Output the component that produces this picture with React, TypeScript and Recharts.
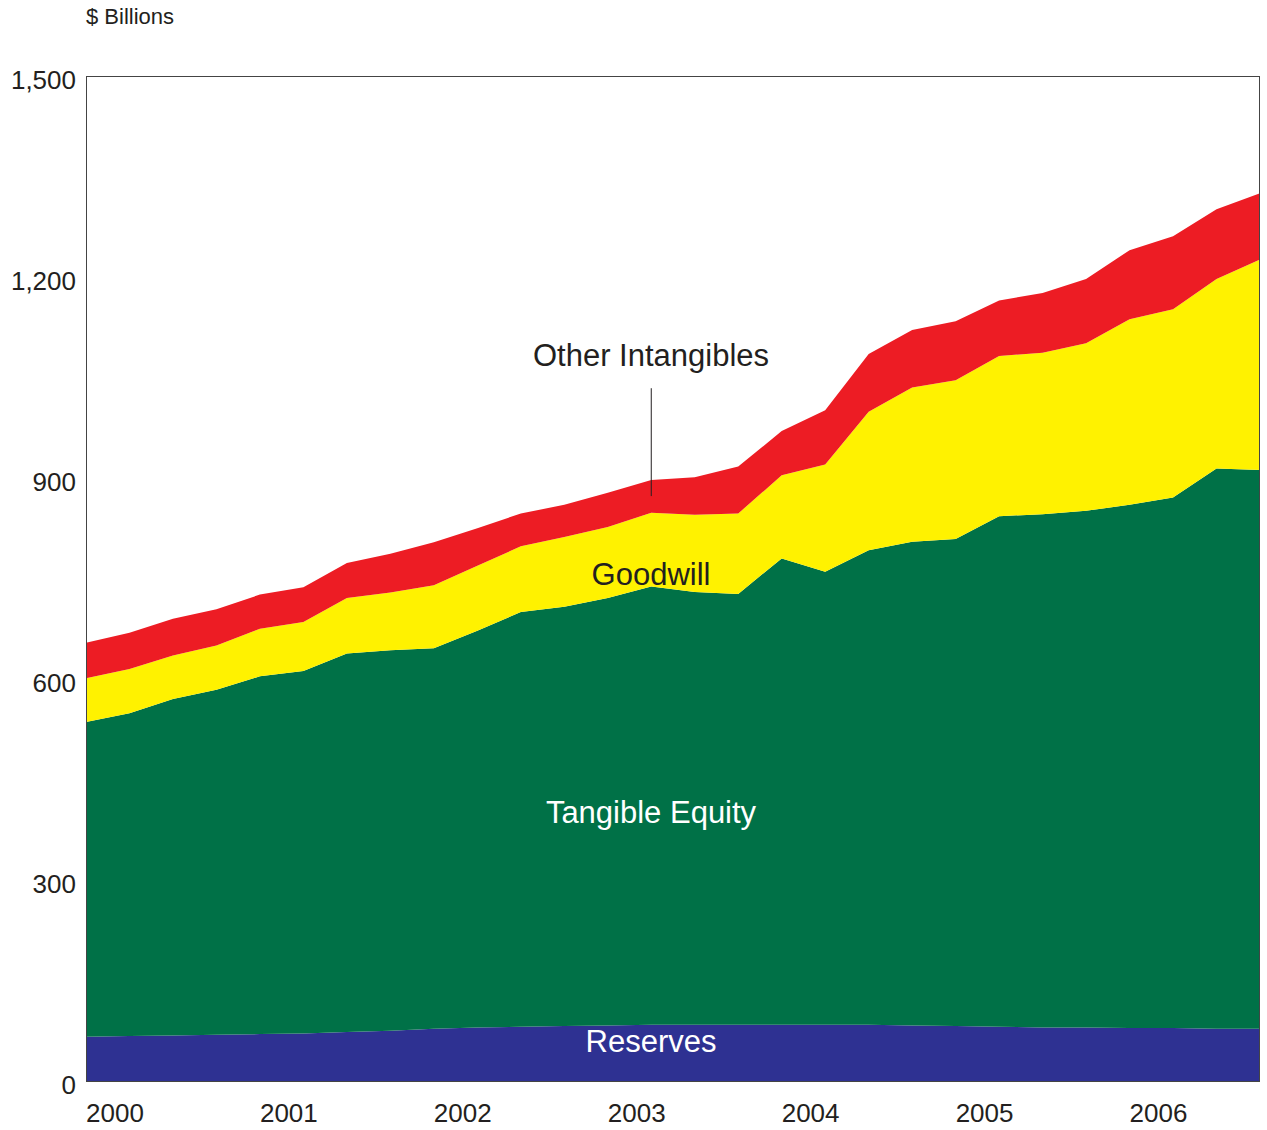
import { AreaChart, Area, XAxis, YAxis, ReferenceLine } from 'recharts';

const quarters = [
  '2000Q1', '2000Q2', '2000Q3', '2000Q4',
  '2001Q1', '2001Q2', '2001Q3', '2001Q4',
  '2002Q1', '2002Q2', '2002Q3', '2002Q4',
  '2003Q1', '2003Q2', '2003Q3', '2003Q4',
  '2004Q1', '2004Q2', '2004Q3', '2004Q4',
  '2005Q1', '2005Q2', '2005Q3', '2005Q4',
  '2006Q1', '2006Q2', '2006Q3', '2006Q4',
];
const yearTicks = ['2000Q1', '2001Q1', '2002Q1', '2003Q1', '2004Q1', '2005Q1', '2006Q1'];
const valueTicks = [0, 300, 600, 900, 1200, 1500];

// $ billions, stacked bottom to top
const reserves = [66, 67, 68, 69, 70, 71, 73, 75, 78, 80, 81, 82, 83, 84, 84, 84, 84, 84, 84, 83, 82, 81, 80, 80, 79, 79, 78, 78];
const tangibleEquity = [470, 482, 502, 515, 534, 541, 565, 568, 568, 592, 619, 626, 638, 654, 646, 643, 696, 676, 708, 722, 727, 762, 766, 771, 781, 792, 836, 834];
const goodwill = [65, 66, 65, 66, 71, 73, 83, 86, 94, 97, 98, 104, 106, 110, 115, 120, 124, 160, 207, 230, 237, 239, 241, 250, 277, 281, 283, 314];
const otherIntangibles = [53, 54, 55, 54, 51, 52, 52, 58, 64, 56, 49, 48, 51, 49, 56, 70, 66, 81, 86, 86, 88, 83, 89, 96, 103, 109, 104, 99];

const data = quarters.map((q, i) => ({
  quarter: q,
  reserves: reserves[i],
  tangible: tangibleEquity[i],
  goodwill: goodwill[i],
  other: otherIntangibles[i],
}));

const FONT = 'Arial, "Liberation Sans", Helvetica, sans-serif';
const INK = '#231f20';

function YearTick({ x, y, payload }: any) {
  return (
    <text x={x} y={y + 33} textAnchor="start" fontSize={26} fontFamily={FONT} fill={INK}>
      {payload.value.slice(0, 4)}
    </text>
  );
}

function ValueTick({ x, y, payload }: any) {
  return (
    <text x={x - 2} y={y + 13} textAnchor="end" fontSize={26} fontFamily={FONT} fill={INK}>
      {payload.value.toLocaleString('en-US')}
    </text>
  );
}

export default function App() {
  return (
    <div style={{ position: 'absolute', left: 0, top: 0, width: 1267, height: 1130, background: '#fff' }}>
      <AreaChart width={1267} height={1130} data={data} margin={{ top: 76, right: 7, bottom: 0, left: 0 }}>
        <XAxis
          dataKey="quarter"
          ticks={yearTicks}
          tick={<YearTick />}
          tickLine={false}
          height={49}
          axisLine={false}
          interval={0}
        />
        <YAxis
          domain={[0, 1500]}
          ticks={valueTicks}
          tick={<ValueTick />}
          tickLine={false}
          width={86}
          axisLine={false}
          interval={0}
        />
        <Area type="linear" dataKey="reserves" stackId="1" stroke="none" fill="#2e3192" fillOpacity={1} isAnimationActive={false} />
        <Area type="linear" dataKey="tangible" stackId="1" stroke="none" fill="#007147" fillOpacity={1} isAnimationActive={false} />
        <Area type="linear" dataKey="goodwill" stackId="1" stroke="none" fill="#fff200" fillOpacity={1} isAnimationActive={false} />
        <Area type="linear" dataKey="other" stackId="1" stroke="none" fill="#ed1c24" fillOpacity={1} isAnimationActive={false} />
        <ReferenceLine
          segment={[{ x: '2003Q2', y: 873 }, { x: '2003Q2', y: 1034 }]}
          stroke={INK}
          strokeWidth={1}
        />
      </AreaChart>
      <svg width={1267} height={1130} style={{ position: 'absolute', left: 0, top: 0, pointerEvents: 'none' }}>
        <rect x={86.5} y={76.5} width={1173} height={1005} fill="none" stroke="#444" strokeWidth={1} />
        <text x={86} y={24} fontSize={22} fontFamily={FONT} fill={INK}>$ Billions</text>
        <text x={651} y={366} textAnchor="middle" fontSize={31} fontFamily={FONT} fill={INK}>Other Intangibles</text>
        <text x={651} y={585} textAnchor="middle" fontSize={31} fontFamily={FONT} fill={INK}>Goodwill</text>
        <text x={651} y={823} textAnchor="middle" fontSize={31} fontFamily={FONT} fill="#fff">Tangible Equity</text>
        <text x={651} y={1052} textAnchor="middle" fontSize={31} fontFamily={FONT} fill="#fff">Reserves</text>
      </svg>
    </div>
  );
}
